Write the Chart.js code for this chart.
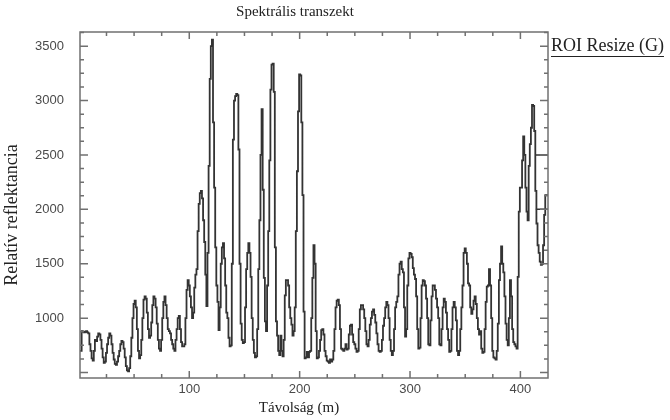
<!DOCTYPE html>
<html>
<head>
<meta charset="utf-8">
<script src="https://cdn.jsdelivr.net/npm/chart.js@4.4.1/dist/chart.umd.min.js"></script>
<style>
  html, body { margin: 0; padding: 0; background: #fff; }
  #wrap { width: 670px; height: 420px; }
</style>
</head>
<body>
<div id="wrap"><canvas id="transectChart"></canvas></div>
<script>
// transect samples, 1 m apart, starting at 1 m
const sampleStart = 1;
const reflectance = [
  700, 700, 880, 875, 870, 875, 880, 870, 860, 760,
  700, 630, 610, 700, 800, 790, 830, 860, 850, 800,
  720, 640, 590, 600, 680, 760, 820, 860, 840, 760,
  680, 620, 580, 570, 600, 650, 700, 760, 790, 780,
  720, 640, 560, 520, 510, 540, 650, 820, 1000, 1130,
  1160, 1100, 900, 700, 630, 660, 800, 1000, 1170, 1200,
  1180, 1050, 900, 820, 840, 960, 1120, 1200, 1180, 1100,
  950, 800, 720, 700, 800, 1000, 1150, 1200, 1120, 1000,
  900, 880, 860, 800, 760, 720, 700, 800, 900, 1000,
  1020, 900, 780, 740, 740, 760, 1000, 1260, 1350, 1300,
  1200, 1100, 1000, 1050, 1280, 1400, 1450, 1800, 2050, 2150,
  2170, 2100, 1900, 1700, 1400, 1110, 1600, 2400, 3200, 3500,
  3560, 2800, 2200, 1650, 1300, 1150, 890, 1100, 1500, 1650,
  1690, 1550, 1300, 1050, 1000, 820, 740, 750, 1500, 2640,
  3000, 3040, 3060, 3050, 2550, 1500, 950, 800, 770, 780,
  1100, 1450, 1600, 1690, 1600, 1380, 1000, 800, 680, 640,
  650, 900, 1450, 1900, 2500, 2920, 2180, 1370, 970, 880,
  1300, 1800, 2450, 3100, 3330, 3340, 3080, 1650, 970, 840,
  700, 660, 840, 700, 650, 800, 1210, 1350, 1350, 1300,
  1100, 1000, 940, 840, 880, 1100, 1800, 2350, 2900, 3240,
  3230, 2800, 2130, 1060, 630, 640, 690, 640, 690, 700,
  1000, 1370, 1670, 1500, 880, 630, 640, 700, 800, 890,
  900, 850, 700, 650, 610, 600, 590, 620, 600, 620,
  700, 900, 1100, 1160, 1170, 1120, 900, 720, 710, 700,
  720, 760, 710, 720, 850, 930, 940, 850, 780, 760,
  720, 690, 700, 900, 1080, 1120, 1120, 1080, 1000, 880,
  760, 740, 800, 940, 1000, 1060, 1080, 1030, 960, 860,
  760, 700, 690, 700, 800, 930, 1000, 1100, 1150, 1120,
  1000, 800, 700, 660, 700, 900, 1100, 1150, 1200, 1400,
  1500, 1520, 1450, 1420, 1100, 830, 900, 1300, 1550, 1600,
  1590, 1560, 1460, 1400, 1360, 1200, 900, 720, 730, 1000,
  1300, 1350, 1340, 1300, 1180, 1000, 760, 750, 980, 1200,
  1300, 1300, 1260, 1180, 1100, 1000, 760, 750, 900, 1100,
  1180, 1150, 1050, 900, 800, 690, 700, 900, 1100, 1150,
  1100, 980, 700, 660, 700, 900, 1100, 1300, 1600, 1640,
  1600, 1500, 1320, 1300, 1100, 1040, 1080, 1160, 1200, 1130,
  1000, 900, 850, 880, 720, 680, 690, 900, 1150, 1290,
  1300, 1450, 1300, 1000, 700, 640, 630, 620, 700, 950,
  1350, 1500, 1660, 1500, 1420, 1200, 950, 800, 750, 1000,
  1350, 1200, 900, 780, 760, 740, 720, 1380, 1980, 2200,
  2200, 2450, 2670, 2500, 2200, 1980, 1900, 2400, 2600, 2750,
  2960, 2950, 2720, 2170, 1870, 1670, 1600, 1520, 1490, 1500,
  1670, 1950, 2130, 2130, 2130
];

// ROI box edges visible at the right border
const roiX = [414, 426];
const roiLevels = [2000, 2500];

const xTickLabels = [100, 200, 300, 400];
const yTickLabels = [1000, 1500, 2000, 2500, 3000, 3500];

const points = reflectance.map((v, i) => ({ x: sampleStart + i, y: v }));
const roiPoints = [];
roiLevels.forEach(lvl => {
  roiPoints.push({ x: roiX[0], y: lvl }, { x: roiX[1], y: lvl }, { x: roiX[1], y: null });
});

// frame with inward ticks on all four sides + free-placed texts
const idlFrame = {
  id: 'idlFrame',
  afterDatasetsDraw(chart) {
    const { ctx, chartArea: a, scales: { x, y } } = chart;
    ctx.save();
    ctx.strokeStyle = '#707070';
    ctx.lineWidth = 1.5;
    ctx.strokeRect(a.left, a.top, a.right - a.left, a.bottom - a.top);
    ctx.beginPath();
    for (let v = 25; v < x.max; v += 25) {
      const px = x.getPixelForValue(v);
      const len = v % 100 === 0 ? 7 : 4;
      ctx.moveTo(px, a.bottom); ctx.lineTo(px, a.bottom - len);
      ctx.moveTo(px, a.top); ctx.lineTo(px, a.top + len);
    }
    for (let v = 500; v < y.max; v += 125) {
      const py = y.getPixelForValue(v);
      const len = v % 500 === 0 ? 8 : 4;
      ctx.moveTo(a.left, py); ctx.lineTo(a.left + len, py);
      ctx.moveTo(a.right, py); ctx.lineTo(a.right - len, py);
    }
    ctx.stroke();

    ctx.fillStyle = '#222';
    ctx.font = '15px "Liberation Serif", "Times New Roman", serif';
    ctx.textAlign = 'center';
    ctx.textBaseline = 'middle';
    ctx.fillText('Spektrális transzekt', 295, 12);
    ctx.fillText('Távolság (m)', 299, 408);

    ctx.save();
    ctx.translate(12, 215);
    ctx.rotate(-Math.PI / 2);
    ctx.font = '18px "Liberation Serif", "Times New Roman", serif';
    ctx.fillText('Relatív reflektancia', 0, 0);
    ctx.restore();

    ctx.textAlign = 'left';
    ctx.font = '18px "Liberation Serif", "Times New Roman", serif';
    const roiText = 'ROI Resize (G)';
    ctx.fillText(roiText, 551, 46);
    const w = ctx.measureText(roiText).width;
    ctx.lineWidth = 1;
    ctx.strokeStyle = '#222';
    ctx.beginPath();
    ctx.moveTo(551, 56.5); ctx.lineTo(551 + w, 56.5);
    ctx.stroke();
    ctx.restore();
  }
};

new Chart(document.getElementById('transectChart'), {
  type: 'line',
  data: {
    datasets: [
      {
        label: 'Relatív reflektancia',
        data: points,
        stepped: 'middle',
        borderColor: '#333',
        borderWidth: 1.8,
        pointRadius: 0,
        fill: false
      },
      {
        label: 'ROI',
        data: roiPoints,
        borderColor: '#333',
        borderWidth: 1.5,
        pointRadius: 0,
        spanGaps: false,
        fill: false
      }
    ]
  },
  options: {
    responsive: true,
    maintainAspectRatio: false,
    animation: false,
    layout: { padding: { top: 32, right: 122, left: 0, bottom: 0 } },
    plugins: {
      legend: { display: false },
      title: { display: false },
      tooltip: { enabled: false }
    },
    scales: {
      x: {
        type: 'linear',
        min: 1,
        max: 425,
        grid: { display: false, drawTicks: false },
        border: { display: false },
        afterBuildTicks: s => { s.ticks = xTickLabels.map(v => ({ value: v })); },
        afterFit: s => { s.height = 42; },
        ticks: {
          autoSkip: false,
          maxRotation: 0,
          padding: 4,
          color: '#4a4a4a',
          callback: v => String(v),
          font: { family: '"Liberation Sans", Arial, sans-serif', size: 13 }
        }
      },
      y: {
        type: 'linear',
        min: 450,
        max: 3630,
        grid: { display: false, drawTicks: false },
        border: { display: false },
        afterBuildTicks: s => { s.ticks = yTickLabels.map(v => ({ value: v })); },
        afterFit: s => { s.width = 80; },
        ticks: {
          autoSkip: false,
          padding: 16,
          color: '#4a4a4a',
          callback: v => String(v),
          font: { family: '"Liberation Sans", Arial, sans-serif', size: 13 }
        }
      }
    }
  },
  plugins: [idlFrame]
});
</script>
</body>
</html>
